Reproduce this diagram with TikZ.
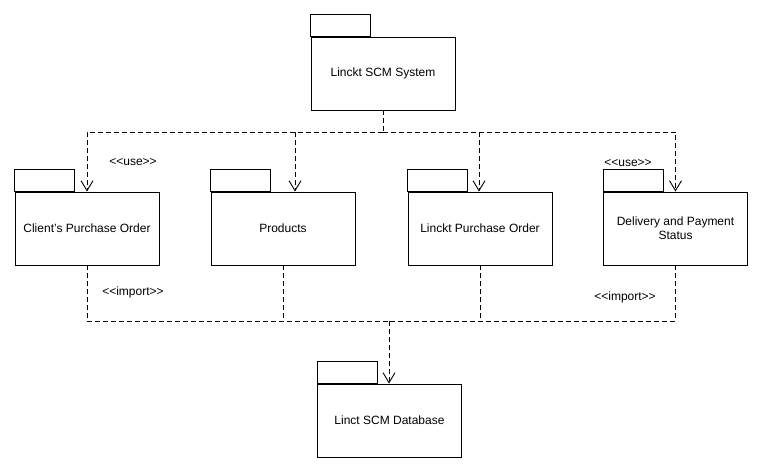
\documentclass[tikz,border=0pt]{standalone}
\usepackage{fontspec}
\setmainfont{Liberation Sans}
\usetikzlibrary{arrows.meta,calc}

\begin{document}
\begin{tikzpicture}[
			x=1pt, y=-1pt,
			pkg/.style={rectangle, draw, line width=0.9pt, minimum width=144pt, minimum height=73pt, inner sep=2pt, align=center, font=\fontsize{12}{14}\selectfont},
			dep/.style={line width=0.9pt, dash pattern=on 5pt off 3pt},
			open arrow/.style={-{Straight Barb[length=10pt,width=12pt,line width=0.9pt]}},
			stereo/.style={font=\fontsize{12}{14}\selectfont}
			]
			\useasboundingbox (0,0) rectangle (762,473);
			
			% packages
			\node[pkg] (sys) at (383,73.5) {Linckt SCM System};
			\node[pkg] (cpo) at (87,228.5) {Client's Purchase Order};
			\node[pkg] (prod) at (283,228.5) {Products};
			\node[pkg] (lpo) at (480,228.5) {Linckt Purchase Order};
			\node[pkg] (dps) at (675.5,228.5) {Delivery and Payment\\Status};
			\node[pkg] (db) at (389.5,420.5) {Linct SCM Database};
			
			% tabs
			\foreach \p in {sys,cpo,prod,lpo,dps,db}
				\draw[line width=0.9pt] (\p.north west) rectangle ++(60,-22);
			
			% use
			\coordinate (fork) at (383,132);
			\draw[dep] (sys.south) -- (fork);
			\draw[dep, open arrow] (fork) -| (cpo.north);
			\draw[dep, open arrow] (fork) -| ([xshift=12pt]prod.north);
			\draw[dep, open arrow] (fork) -| ([xshift=-1pt]lpo.north);
			\draw[dep, open arrow] (fork) -| (dps.north);
			\node[stereo] (use1) at (133,162) {<{}<use>{}>};
			\node[stereo] (use2) at (628,163) {<{}<use>{}>};
			
			% import
			\coordinate (join) at (389,321);
			\draw[dep] (cpo.south) |- (join);
			\draw[dep] (prod.south) -- (prod.south |- join);
			\draw[dep] (lpo.south) -- (lpo.south |- join);
			\draw[dep] (dps.south) |- (join);
			\draw[dep, open arrow] (join) -- (db.north -| join);
			\node[stereo] (imp1) at (133,292) {<{}<import>{}>};
			\node[stereo] (imp2) at (625,297) {<{}<import>{}>};
		\end{tikzpicture}
\end{document}
